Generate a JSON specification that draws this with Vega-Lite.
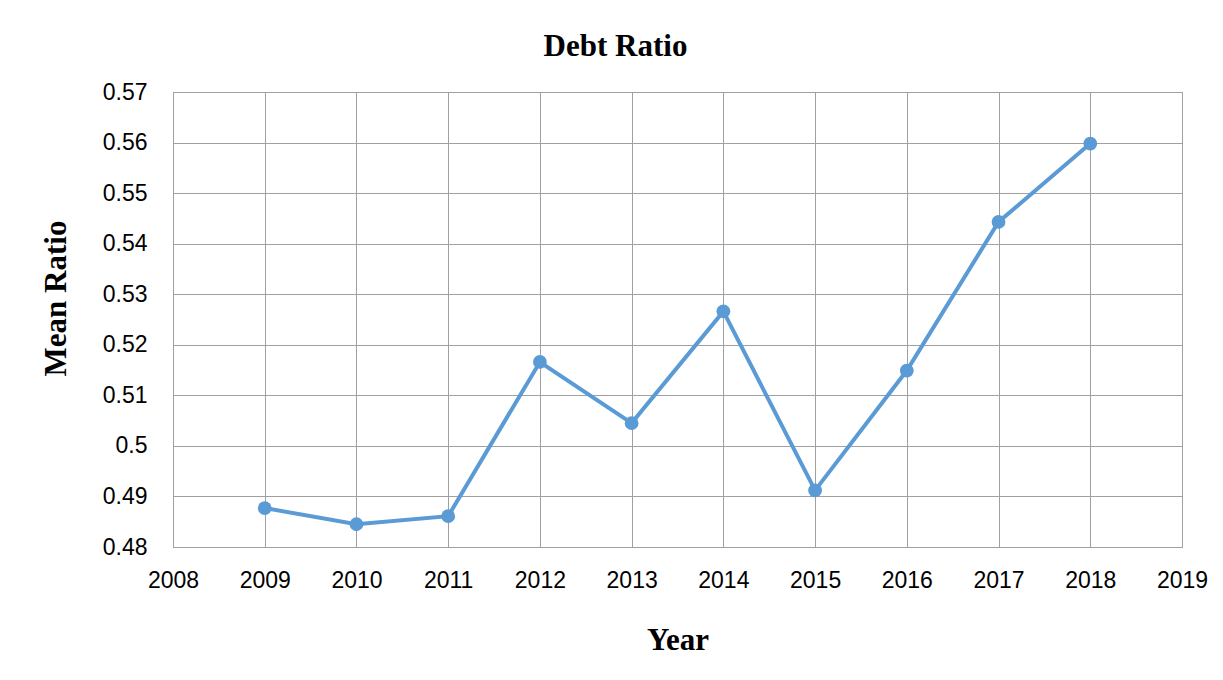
{
  "$schema": "https://vega.github.io/schema/vega-lite/v6.json",
  "autosize": {"type": "none"},
  "width": 1009,
  "height": 455,
  "padding": {"left": 173, "top": 92, "right": 41, "bottom": 133},
  "background": "white",
  "title": {
    "text": "Debt Ratio",
    "font": "Liberation Serif",
    "fontSize": 31,
    "fontWeight": "bold",
    "color": "black",
    "anchor": "middle",
    "frame": "group",
    "baseline": "alphabetic",
    "dx": -62,
    "dy": 44,
    "offset": 38
  },
  "data": {
    "values": [
      {"year": 2009, "ratio": 0.4877},
      {"year": 2010, "ratio": 0.4845},
      {"year": 2011, "ratio": 0.4861},
      {"year": 2012, "ratio": 0.5166},
      {"year": 2013, "ratio": 0.5045},
      {"year": 2014, "ratio": 0.5266},
      {"year": 2015, "ratio": 0.4912},
      {"year": 2016, "ratio": 0.5149},
      {"year": 2017, "ratio": 0.5443},
      {"year": 2018, "ratio": 0.5598}
    ]
  },
  "mark": {
    "type": "line",
    "color": "#5B9BD5",
    "strokeWidth": 4,
    "point": {"filled": true, "size": 190, "color": "#5B9BD5", "opacity": 1}
  },
  "encoding": {
    "x": {
      "field": "year",
      "type": "quantitative",
      "scale": {"domain": [2008, 2019], "nice": false, "zero": false},
      "axis": {
        "title": "Year",
        "values": [2008, 2009, 2010, 2011, 2012, 2013, 2014, 2015, 2016, 2017, 2018, 2019],
        "format": "d",
        "ticks": false,
        "domain": false,
        "labelPadding": 22,
        "labelFont": "Liberation Sans",
        "labelFontSize": 23,
        "labelColor": "black",
        "labelFlush": false,
        "labelOverlap": false,
        "titleFont": "Liberation Serif",
        "titleFontSize": 31,
        "titleFontWeight": "bold",
        "titleColor": "black",
        "titleBaseline": "alphabetic",
        "titleY": 102,
        "gridColor": "#a0a0a0",
        "gridWidth": 1,
        "gridOpacity": 1
      }
    },
    "y": {
      "field": "ratio",
      "type": "quantitative",
      "scale": {"domain": [0.48, 0.57], "nice": false, "zero": false},
      "axis": {
        "title": "Mean Ratio",
        "values": [0.48, 0.49, 0.5, 0.51, 0.52, 0.53, 0.54, 0.55, 0.56, 0.57],
        "format": ".2~f",
        "ticks": false,
        "domain": false,
        "labelPadding": 26,
        "labelFont": "Liberation Sans",
        "labelFontSize": 23,
        "labelColor": "black",
        "labelFlush": false,
        "labelOverlap": false,
        "titleFont": "Liberation Serif",
        "titleFontSize": 31,
        "titleFontWeight": "bold",
        "titleColor": "black",
        "titleBaseline": "alphabetic",
        "titleAngle": -90,
        "titleX": -108,
        "titleY": 206,
        "gridColor": "#a0a0a0",
        "gridWidth": 1,
        "gridOpacity": 1
      }
    }
  },
  "config": {
    "view": {"stroke": "#a0a0a0", "strokeWidth": 1}
  }
}
